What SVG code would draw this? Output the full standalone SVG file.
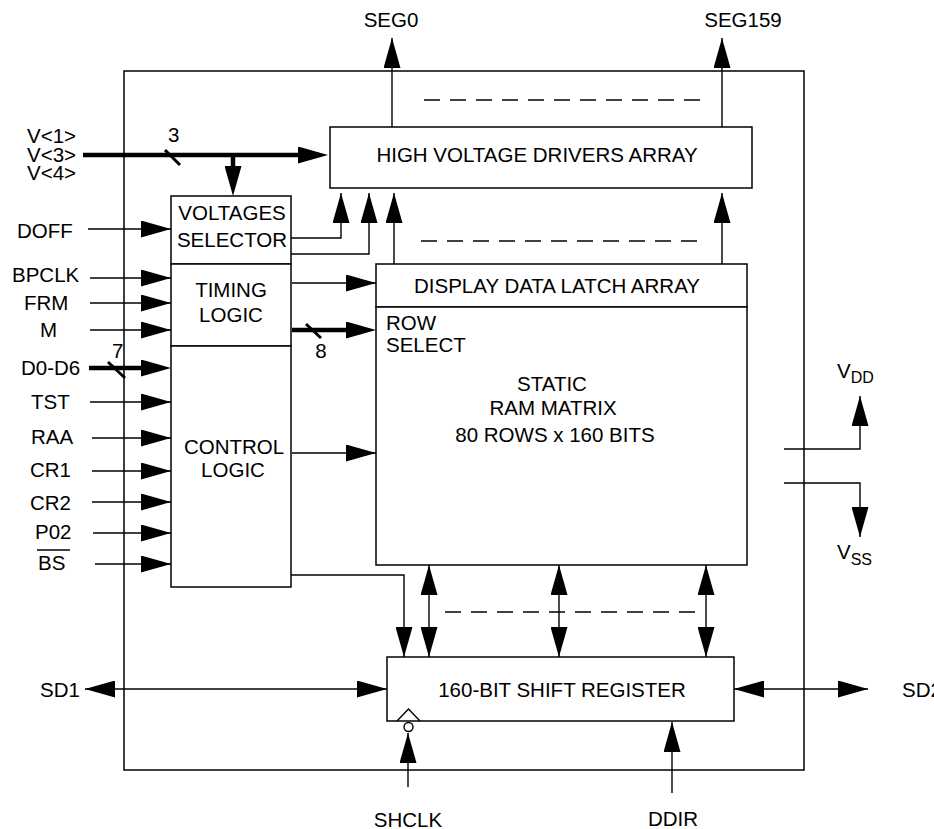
<svg xmlns="http://www.w3.org/2000/svg" width="934" height="829" viewBox="0 0 934 829">
<style>
text{font-family:"Liberation Sans",Arial,sans-serif;font-size:20.5px;fill:#000}
.m{text-anchor:middle}
.box{fill:#fff;stroke:#000;stroke-width:1.5}
.ln{fill:none;stroke:#000;stroke-width:1.4}
.th{fill:none;stroke:#000;stroke-width:4.5}
.sl{stroke:#000;stroke-width:3}
.ds{fill:none;stroke:#000;stroke-width:1.4;stroke-dasharray:16 10}
.sub{font-size:16px}
</style>
<defs>
<marker id="ah" markerUnits="userSpaceOnUse" markerWidth="30" markerHeight="17" refX="30" refY="8.5" orient="auto-start-reverse" viewBox="0 0 30 17"><path d="M0,0 L30,8.5 L0,17 z" fill="#000"/></marker>
<marker id="aht" markerUnits="userSpaceOnUse" markerWidth="30" markerHeight="17" refX="2" refY="8.5" orient="auto" viewBox="0 0 30 17"><path d="M0,0 L30,8.5 L0,17 z" fill="#000"/></marker>
</defs>
<rect id="frame" x="124" y="71" width="680" height="699" fill="none" stroke="#000" stroke-width="1.5"/>
<g id="connectors">
<path class="ln" d="M392,127 V38" marker-end="url(#ah)"/>
<path class="ln" d="M722,127 V38" marker-end="url(#ah)"/>
<path class="th" d="M83,155 H300" marker-end="url(#aht)"/>
<path class="th" d="M233,155 V168" marker-end="url(#aht)"/>
<line class="sl" x1="165" y1="150" x2="180" y2="165"/>
<path class="ln" d="M88,229 H171" marker-end="url(#ah)"/>
<path class="ln" d="M291,238 H341 V193" marker-end="url(#ah)"/>
<path class="ln" d="M291,254 H369 V193" marker-end="url(#ah)"/>
<path class="ln" d="M394,264 V193" marker-end="url(#ah)"/>
<path class="ln" d="M722,264 V193" marker-end="url(#ah)"/>
<path class="ln" d="M90,278 H171" marker-end="url(#ah)"/>
<path class="ln" d="M90,303 H171" marker-end="url(#ah)"/>
<path class="ln" d="M90,330 H171" marker-end="url(#ah)"/>
<path class="th" d="M89,368 H143" marker-end="url(#aht)"/>
<line class="sl" x1="108" y1="362" x2="125" y2="378"/>
<path class="ln" d="M90,402 H171" marker-end="url(#ah)"/>
<path class="ln" d="M92,438 H171" marker-end="url(#ah)"/>
<path class="ln" d="M92,471 H171" marker-end="url(#ah)"/>
<path class="ln" d="M92,502 H171" marker-end="url(#ah)"/>
<path class="ln" d="M93,533 H171" marker-end="url(#ah)"/>
<path class="ln" d="M95,564 H171" marker-end="url(#ah)"/>
<path class="ln" d="M292,283 H376" marker-end="url(#ah)"/>
<path class="th" d="M292,330 H348" marker-end="url(#aht)"/>
<line class="sl" x1="306" y1="324" x2="321" y2="338"/>
<path class="ln" d="M292,453 H376" marker-end="url(#ah)"/>
<path class="ln" d="M291,575 H404 V657" marker-end="url(#ah)"/>
<path class="ln" d="M429,565 V657" marker-start="url(#ah)" marker-end="url(#ah)"/>
<path class="ln" d="M559,565 V657" marker-start="url(#ah)" marker-end="url(#ah)"/>
<path class="ln" d="M706,565 V657" marker-start="url(#ah)" marker-end="url(#ah)"/>
<path class="ln" d="M85,689 H387" marker-start="url(#ah)" marker-end="url(#ah)"/>
<path class="ln" d="M734,689 H868" marker-start="url(#ah)" marker-end="url(#ah)"/>
<path class="ln" d="M408,787 V733" marker-end="url(#ah)"/>
<path class="ln" d="M672,793 V722" marker-end="url(#ah)"/>
<path class="ln" d="M784,449 H860 V396" marker-end="url(#ah)"/>
<path class="ln" d="M784,483 H860 V537" marker-end="url(#ah)"/>
<path class="ds" d="M424,100 H707"/>
<path class="ds" d="M421,241 H703"/>
<path class="ds" d="M445,612 H700"/>
</g>
<g id="hv"><rect class="box" x="330" y="127" width="422" height="61"/><text class="m" x="537" y="162">HIGH VOLTAGE DRIVERS ARRAY</text></g>
<g id="vsel"><rect class="box" x="171" y="196" width="120" height="68"/><text class="m" x="232" y="220">VOLTAGES</text><text class="m" x="232" y="247">SELECTOR</text></g>
<g id="timing"><rect class="box" x="171" y="264" width="120" height="82"/><text class="m" x="231" y="297">TIMING</text><text class="m" x="231" y="322">LOGIC</text></g>
<g id="control"><rect class="box" x="171" y="346" width="120" height="241"/><text class="m" x="234" y="454">CONTROL</text><text class="m" x="233" y="477">LOGIC</text></g>
<g id="ddla"><rect class="box" x="376" y="264" width="371" height="43"/><text class="m" x="557" y="293">DISPLAY DATA LATCH ARRAY</text></g>
<g id="ram"><rect class="box" x="376" y="307" width="371" height="258"/><text x="386" y="330">ROW</text><text x="386" y="352">SELECT</text><text class="m" x="552" y="391">STATIC</text><text class="m" x="553" y="415">RAM MATRIX</text><text class="m" x="555" y="442">80 ROWS x 160 BITS</text></g>
<g id="sr"><rect class="box" x="387" y="657" width="347" height="64"/><text class="m" x="562" y="697">160-BIT SHIFT REGISTER</text><path class="ln" d="M397,721 L408.5,709 L420,721"/><circle cx="408.5" cy="727" r="4.5" fill="#fff" stroke="#000" stroke-width="1.4"/></g>
<g id="labels">
<text class="m" x="391" y="27">SEG0</text>
<text class="m" x="743" y="27">SEG159</text>
<text x="27" y="143">V&lt;1&gt;</text>
<text x="27" y="162">V&lt;3&gt;</text>
<text x="27" y="180">V&lt;4&gt;</text>
<text x="168" y="142">3</text>
<text x="17" y="238">DOFF</text>
<text x="12" y="282">BPCLK</text>
<text x="24" y="310">FRM</text>
<text x="40" y="337">M</text>
<text x="112" y="358">7</text>
<text x="21" y="375">D0-D6</text>
<text x="31" y="409">TST</text>
<text x="31" y="444">RAA</text>
<text x="30" y="477">CR1</text>
<text x="30" y="510">CR2</text>
<text x="35" y="539">P02</text>
<text x="38" y="570">BS</text>
<line x1="37" y1="550" x2="70" y2="550" stroke="#000" stroke-width="1.4"/>
<text class="m" x="321" y="358">8</text>
<text x="40" y="697">SD1</text>
<text x="902" y="697">SD2</text>
<text class="m" x="408" y="827">SHCLK</text>
<text class="m" x="673" y="826">DDIR</text>
<text x="837" y="378">V<tspan class="sub" dy="5">DD</tspan></text>
<text x="837" y="559">V<tspan class="sub" dy="6">SS</tspan></text>
</g>
</svg>
